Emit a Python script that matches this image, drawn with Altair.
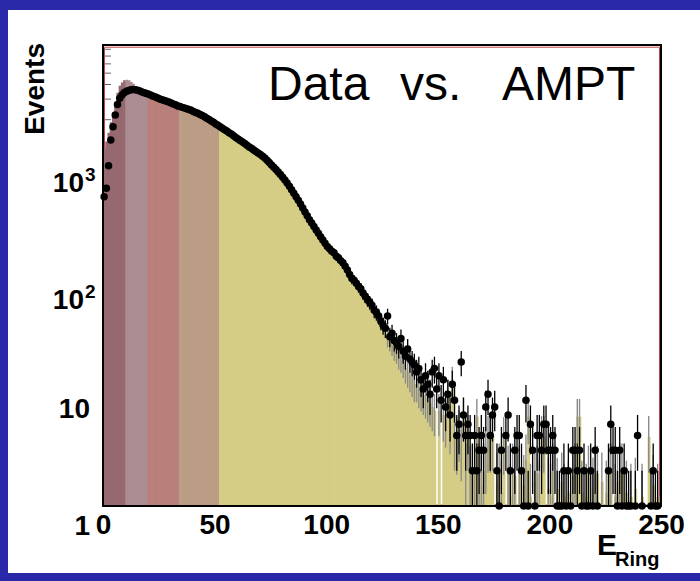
import altair as alt
import pandas as pd
import numpy as np

# ---------------- data ----------------
data_counts = [
    440, 520, 810, 1340, 1740, 2190, 2700, 3050, 3250, 3400,
    3500, 3560, 3600, 3620, 3600, 3580, 3520, 3450, 3400, 3350,
    3300, 3230, 3180, 3120, 3060, 3010, 2960, 2920, 2870, 2830,
    2780, 2720, 2680, 2620, 2590, 2550, 2520, 2480, 2450, 2410,
    2350, 2310, 2270, 2220, 2170, 2120, 2060, 2010, 1950, 1900,
    1840, 1790, 1740, 1690, 1640, 1600, 1550, 1510, 1460, 1410,
    1370, 1330, 1290, 1250, 1210, 1170, 1140, 1100, 1070, 1040,
    1010, 975, 940, 900, 860, 820, 785, 750, 715, 680,
    645, 610, 575, 540, 505, 470, 440, 410, 380, 352,
    326, 302, 280, 262, 245, 228, 214, 200, 188, 176,
    165, 158, 150, 146, 136, 132, 125, 120, 112, 104,
    95, 88, 85, 80, 75, 72, 66, 62, 58, 55,
    52, 47, 45, 42, 38, 35, 33, 42, 28, 30,
    26, 25, 23, 27, 21, 19, 22, 18, 17, 16,
    14, 15, 12, 10, 13, 11, 9, 14, 15, 10,
    13, 8, 12, 7, 9, 6, 11, 8, 4, 5,
    17, 6, 4, 5, 4, 2, 4, 2, 3, 4,
    3, 7, 9, 4, 6, 7, 2, 1, 3, 0,
    4, 6, 2, 0, 3, 4, 4, 2, 1, 8,
    1, 5, 3, 1, 4, 4, 3, 5, 5, 3,
    3, 4, 3, 1, 1, 1, 2, 1, 2, 1,
    3, 3, 2, 3, 1, 2, 1, 1, 2, 1,
    3, 1, 0, 0, 0, 0, 2, 5, 3, 3,
    1, 3, 1, 2, 1, 1, 1, 0, 1, 4,
    0, 1, 0, 0, 0, 1, 2, 1, 1, 0,
]

ampt_counts = [
    1120, 1300, 1550, 1900, 2300, 2800, 3400, 3900, 4150, 4350,
    4400, 4350, 4200, 4050, 3850, 3650, 3520, 3440, 3380, 3330,
    3270, 3210, 3150, 3100, 3040, 2990, 2940, 2900, 2850, 2800,
    2760, 2700, 2660, 2610, 2570, 2530, 2500, 2470, 2430, 2390,
    2340, 2300, 2260, 2210, 2170, 2110, 2060, 2020, 1960, 1910,
    1860, 1800, 1760, 1700, 1660, 1610, 1570, 1520, 1480, 1430,
    1390, 1350, 1300, 1270, 1230, 1190, 1150, 1120, 1090, 1050,
    1030, 990, 955, 915, 880, 840, 800, 765, 730, 695,
    660, 625, 590, 555, 520, 485, 452, 420, 390, 362,
    335, 310, 288, 268, 250, 232, 218, 204, 190, 178,
    168, 155, 148, 140, 133, 125, 118, 112, 104, 97,
    90, 86, 80, 76, 70, 66, 62, 57, 54, 50,
    47, 44, 40, 38, 35, 33, 30, 28, 26, 24,
    22, 21, 19, 18, 16.5, 15, 14, 13, 12, 11,
    11, 10, 9.5, 9, 8.5, 8, 7.5, 7, 6.5, 0,
    6.5, 0, 6, 5.5, 9, 5, 12, 4, 3.8, 4.5,
    3.5, 6, 2, 4, 1.9, 2, 1.9, 5.8, 2, 1.5,
    2, 3, 3.9, 3.9, 4, 0, 1.6, 2, 1.3, 3.8,
    0, 1.9, 1.2, 2, 1.8, 0, 1.9, 0, 1.5, 2.5,
    5.8, 1.2, 0, 1.6, 1.9, 1.3, 3.9, 3.9, 0, 1.4,
    1.2, 2, 0, 1.4, 0, 1.6, 1.2, 0, 1.3, 0,
    1.8, 2, 5.8, 5.8, 1.3, 0, 1.2, 1.9, 0, 1.4,
    1.9, 1.9, 0, 1.6, 0, 1.3, 2, 2, 0, 1.2,
    1.6, 2, 2, 0, 1.3, 0, 1.2, 0, 1.4, 0,
    0, 1.2, 0, 0, 3.9, 0, 1.5, 0, 1.2, 0,
]

region_edges = [0, 10, 20, 34, 52, 250]
region_names = ["c0", "c1", "c2", "c3", "c4"]
region_colors = ["#95696f", "#ab8d92", "#b97f7a", "#bb9c85", "#d5cd85"]

x_tick_values = [0, 50, 100, 150, 200, 250]
y_major = [1, 10, 100, 1000]
y_minor = [m * 10 ** k for k in range(4) for m in range(2, 10)]
y_plain_labels = [1, 10]
y_power_labels = [100, 1000]
y_power_exps = ["2", "3"]

# ---------------- tables ----------------
nb = len(data_counts)
lo_edge = np.arange(nb, dtype=float)
hist = pd.DataFrame({
    "E0": lo_edge,
    "E1": lo_edge + 1,
    "Ec": lo_edge + 0.5,
    "mc": ampt_counts,
})
hist["region"] = [region_names[np.searchsorted(region_edges, e, side="right") - 1] for e in hist["E0"]]
hist = hist[hist["mc"] > 0].copy()
hist["mlo"] = np.maximum(hist["mc"] - np.sqrt(hist["mc"]), 0.5)
hist["mhi"] = hist["mc"] + np.sqrt(hist["mc"])
hist_tail = hist[hist["mc"] < 30]

pts = pd.DataFrame({"E": lo_edge + 0.5, "n": data_counts})
pts = pts[pts["n"] > 0].copy()
pts["lo"] = np.maximum(pts["n"] - np.sqrt(pts["n"]), 0.5)
pts["hi"] = pts["n"] + np.sqrt(pts["n"])

ticks_minor = pd.DataFrame({"v": y_minor})
ticks_major = pd.DataFrame({"v": y_major})
lab_plain = pd.DataFrame({"v": y_plain_labels, "t": [str(v) for v in y_plain_labels]})
lab_power = pd.DataFrame({"v": y_power_labels, "t": ["10"] * len(y_power_labels), "e": y_power_exps})

# ---------------- geometry / styles ----------------
W, H = 558, 461
LEFT, TOP = 103, 45
FONT = "Liberation Sans"

xs = alt.Scale(domain=[0, 250], nice=False, zero=False)
ys = alt.Scale(type="log", domain=[1, 8700], nice=False)

x_axis = alt.Axis(values=x_tick_values, labelFont=FONT, labelFontSize=28, labelFontWeight="bold",
                  labelColor="black", labelPadding=5, domain=False, ticks=False, tickSize=0,
                  grid=False, zindex=1, labelFlush=False, labelOverlap=False)
y_axis = alt.Axis(values=y_major, labels=False, domain=False, ticks=False, tickSize=0,
                  grid=False, zindex=1)

one = pd.DataFrame({"a": [0]})

panel = alt.Chart(one).mark_rect(color="white").encode(
    x=alt.value(8 - LEFT), x2=alt.value(700 - LEFT),
    y=alt.value(10 - TOP), y2=alt.value(573 - TOP))

red_frame = alt.Chart(one).mark_rect(filled=False, stroke="#c04848", strokeWidth=1).encode(
    x=alt.value(1.5), x2=alt.value(W - 1.5), y=alt.value(2.2), y2=alt.value(H - 1))

minor_ticks = alt.Chart(ticks_minor).mark_rule(color="#666666", strokeWidth=1, clip=True).encode(
    y=alt.Y("v:Q", scale=ys, axis=y_axis, title=None), x=alt.value(0), x2=alt.value(8))
major_ticks = alt.Chart(ticks_major).mark_rule(color="#666666", strokeWidth=1, clip=True).encode(
    y=alt.Y("v:Q", scale=ys, axis=y_axis, title=None), x=alt.value(0), x2=alt.value(16))

color_scale = alt.Scale(domain=region_names, range=region_colors)
bars = alt.Chart(hist).mark_rect(clip=True, strokeWidth=0, opacity=1, x2Offset=0.7).encode(
    x=alt.X("E0:Q", scale=xs, axis=x_axis, title=None),
    x2="E1:Q",
    y=alt.Y("mc:Q", scale=ys, axis=y_axis, title=None),
    y2=alt.value(H),
    color=alt.Color("region:N", scale=color_scale, legend=None),
)

mc_err = alt.Chart(hist_tail).mark_rule(color="#8c8c8c", strokeWidth=1.4, clip=True).encode(
    x=alt.X("Ec:Q", scale=xs, axis=x_axis, title=None),
    y=alt.Y("mlo:Q", scale=ys, axis=y_axis, title=None),
    y2="mhi:Q",
)

frame = alt.Chart(one).mark_rect(filled=False, stroke="black", strokeWidth=2).encode(
    x=alt.value(0), x2=alt.value(W), y=alt.value(0), y2=alt.value(H))

data_err = alt.Chart(pts).mark_rule(color="black", strokeWidth=1.3, clip=True).encode(
    x=alt.X("E:Q", scale=xs, axis=x_axis, title=None),
    y=alt.Y("lo:Q", scale=ys, axis=y_axis, title=None),
    y2="hi:Q",
)

data_pts = alt.Chart(pts).mark_circle(color="black", size=56, opacity=1).encode(
    x=alt.X("E:Q", scale=xs, axis=x_axis, title=None),
    y=alt.Y("n:Q", scale=ys, axis=y_axis, title=None),
)

# y-axis labels (1, 10, 10^2, 10^3)
ylab_plain = alt.Chart(lab_plain).mark_text(
    font=FONT, fontSize=28, fontWeight="bold", align="right", baseline="middle",
    dy=21, color="black").encode(
    y=alt.Y("v:Q", scale=ys, axis=y_axis, title=None), x=alt.value(90 - LEFT), text="t:N")
ylab_base = alt.Chart(lab_power).mark_text(
    font=FONT, fontSize=28, fontWeight="bold", align="right", baseline="middle",
    dy=29, color="black").encode(
    y=alt.Y("v:Q", scale=ys, axis=y_axis, title=None), x=alt.value(84 - LEFT), text="t:N")
ylab_exp = alt.Chart(lab_power).mark_text(
    font=FONT, fontSize=19, fontWeight="bold", align="left", baseline="alphabetic",
    dy=26, color="black").encode(
    y=alt.Y("v:Q", scale=ys, axis=y_axis, title=None), x=alt.value(85 - LEFT), text="e:N")


def label(text, x, y, size, weight="normal", align="left", angle=0, baseline="alphabetic"):
    return alt.Chart(one).mark_text(text=text, font=FONT, fontSize=size, fontWeight=weight,
                                    align=align, baseline=baseline, angle=angle,
                                    color="black").encode(x=alt.value(x), y=alt.value(y))


t_data = label("Data", 268 - LEFT, 100 - TOP, 48)
t_vs = label("vs.", 400 - LEFT, 100 - TOP, 48)
t_ampt = label("AMPT", 502 - LEFT, 100 - TOP, 48)
t_events = label("Events", 36 - LEFT, 43 - TOP, 28, weight="bold", align="right",
                 angle=270, baseline="middle")
t_e = label("E", 597 - LEFT, 555 - TOP, 30, weight="bold")
t_ring = label("Ring", 615 - LEFT, 566 - TOP, 20, weight="bold")

chart = alt.layer(
    panel, red_frame, minor_ticks, major_ticks, bars, mc_err, frame, data_err, data_pts,
    ylab_plain, ylab_base, ylab_exp,
    t_data, t_vs, t_ampt, t_events, t_e, t_ring,
).properties(
    width=W, height=H,
    padding={"left": LEFT, "top": TOP, "right": 700 - LEFT - W, "bottom": 581 - TOP - H},
    autosize=alt.AutoSizeParams(type="none"),
).configure(background="#2828a8").configure_view(stroke=None)

chart.save("out.html", embed_options={"renderer": "svg", "actions": False})
